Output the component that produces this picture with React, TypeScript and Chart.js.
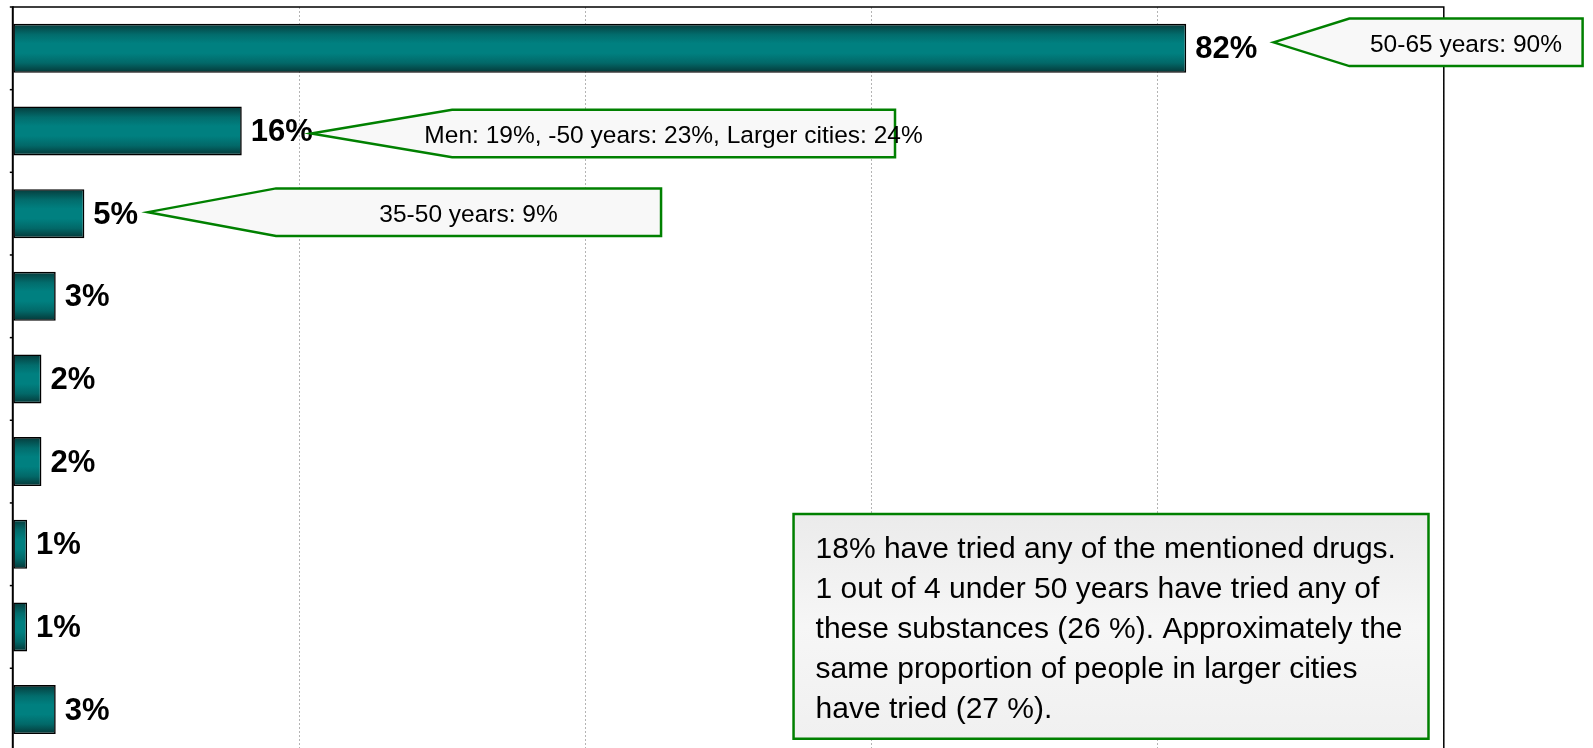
import React, { useEffect, useRef } from "react";
import { Chart, registerables } from "chart.js";

Chart.register(...registerables);

// ---------- data ----------
const categories = [
  "Category 1",
  "Category 2",
  "Category 3",
  "Category 4",
  "Category 5",
  "Category 6",
  "Category 7",
  "Category 8",
  "Category 9",
];
const values = [82, 16, 5, 3, 2, 2, 1, 1, 3];
const xMin = 0;
const xMax = 100;
const xStep = 20;
const calloutBars = [0, 1, 2];
const calloutTexts = [
  "50-65 years: 90%",
  "Men: 19%, -50 years: 23%, Larger cities: 24%",
  "35-50 years: 9%",
];
const noteLines = [
  "18% have tried any of the mentioned drugs.",
  "1 out of 4 under 50 years have tried any of",
  "these substances (26 %). Approximately the",
  "same proportion of people in larger cities",
  "have tried (27 %).",
];

// ---------- layout / style (not data) ----------
const W = 1593;
const H = 760;
const BAR_PCT = 0.5925;
const FONT = "'Liberation Sans', Arial, Helvetica, sans-serif";
const GREEN = "#008000";
// callout geometry in x-axis units, dy in px
const CALLOUT_GEOM = [
  { tip: 88.1, left: 93.4, right: 109.7, dy: -6 },
  { tip: 20.85, left: 30.7, right: 61.65, dy: 2.5 },
  { tip: 9.45, left: 18.4, right: 45.3, dy: -1.5 },
];
const CALLOUT_HALF = 23.75;
// note box geometry in axis units
const NOTE_GEOM = { left: 54.56, right: 98.93, top: 5.634, bottom: 8.353 };

const overlayPlugin = {
  id: "overlay",
  afterDatasetsDraw(chart: any) {
    const ctx = chart.ctx;
    const { left, right, top, bottom } = chart.chartArea;
    const y = chart.scales.y;
    ctx.save();
    ctx.strokeStyle = "#000";
    // top & right border
    ctx.lineWidth = 1.5;
    ctx.beginPath();
    ctx.moveTo(left, top);
    ctx.lineTo(right, top);
    ctx.lineTo(right, bottom + 2);
    ctx.stroke();
    // left axis
    ctx.lineWidth = 2;
    ctx.beginPath();
    ctx.moveTo(left, top - 0.75);
    ctx.lineTo(left, bottom + 2);
    ctx.stroke();
    // category tick marks
    ctx.lineWidth = 1.5;
    for (let i = 0; i <= categories.length; i++) {
      const py = y.getPixelForValue(i - 0.5);
      ctx.beginPath();
      ctx.moveTo(left - 3, py);
      ctx.lineTo(left, py);
      ctx.stroke();
    }
    // value labels
    const meta = chart.getDatasetMeta(0);
    ctx.fillStyle = "#000";
    ctx.font = `bold 31px ${FONT}`;
    ctx.textAlign = "left";
    ctx.textBaseline = "alphabetic";
    meta.data.forEach((bar: any, i: number) => {
      ctx.fillText(`${values[i]}%`, bar.x + 9, bar.y + 10);
    });
    ctx.restore();
  },
  afterDraw(chart: any) {
    const ctx = chart.ctx;
    const x = chart.scales.x;
    const y = chart.scales.y;
    ctx.save();
    // callouts
    calloutBars.forEach((bi, k) => {
      const g = CALLOUT_GEOM[k];
      const cy = y.getPixelForValue(bi) + g.dy;
      const tx = x.getPixelForValue(g.tip);
      const lx = x.getPixelForValue(g.left);
      const rx = x.getPixelForValue(g.right);
      const t = cy - CALLOUT_HALF;
      const b = cy + CALLOUT_HALF;
      ctx.beginPath();
      ctx.moveTo(tx, cy);
      ctx.lineTo(lx, t);
      ctx.lineTo(rx, t);
      ctx.lineTo(rx, b);
      ctx.lineTo(lx, b);
      ctx.closePath();
      ctx.fillStyle = "#f8f8f8";
      ctx.fill();
      ctx.lineWidth = 2.5;
      ctx.strokeStyle = GREEN;
      ctx.lineJoin = "miter";
      ctx.stroke();
      ctx.fillStyle = "#000";
      ctx.font = `24.5px ${FONT}`;
      ctx.textAlign = "center";
      ctx.textBaseline = "alphabetic";
      ctx.fillText(calloutTexts[k], (lx + rx) / 2, cy + 10);
    });
    // note box
    const nl = x.getPixelForValue(NOTE_GEOM.left);
    const nr = x.getPixelForValue(NOTE_GEOM.right);
    const nt = y.getPixelForValue(NOTE_GEOM.top);
    const nb = y.getPixelForValue(NOTE_GEOM.bottom);
    const grad = ctx.createLinearGradient(0, nt, 0, nb);
    grad.addColorStop(0, "#ebebeb");
    grad.addColorStop(0.5, "#f6f6f6");
    grad.addColorStop(1, "#f0f0f0");
    ctx.fillStyle = grad;
    ctx.fillRect(nl, nt, nr - nl, nb - nt);
    ctx.lineWidth = 2.5;
    ctx.strokeStyle = GREEN;
    ctx.strokeRect(nl, nt, nr - nl, nb - nt);
    ctx.fillStyle = "#000";
    ctx.font = `30px ${FONT}`;
    ctx.textAlign = "left";
    ctx.textBaseline = "alphabetic";
    noteLines.forEach((line, i) => {
      ctx.fillText(line, nl + 22, nt + 44.3 + i * 40);
    });
    ctx.restore();
  },
};

export default function App() {
  const ref = useRef<HTMLCanvasElement | null>(null);

  useEffect(() => {
    if (!ref.current) return;
    const chart = new Chart(ref.current, {
      type: "bar",
      data: {
        labels: categories,
        datasets: [
          {
            data: values,
            categoryPercentage: 1,
            barPercentage: BAR_PCT,
            borderColor: "#000",
            borderWidth: 1.6,
            borderSkipped: false,
            backgroundColor: (c: any) => {
              const ch = c.chart;
              const ys = ch.scales && ch.scales.y;
              if (!ch.chartArea || !ys || c.dataIndex === undefined) return "#008080";
              const cy = ys.getPixelForValue(c.dataIndex);
              const pitch = Math.abs(ys.getPixelForValue(1) - ys.getPixelForValue(0));
              const h = (pitch * BAR_PCT) / 2;
              if (!isFinite(cy) || !isFinite(h) || h <= 0) return "#008080";
              const g = ch.ctx.createLinearGradient(0, cy - h, 0, cy + h);
              g.addColorStop(0, "#053b3b");
              g.addColorStop(0.22, "#026c6c");
              g.addColorStop(0.4, "#008080");
              g.addColorStop(0.6, "#008080");
              g.addColorStop(0.8, "#026868");
              g.addColorStop(1, "#053636");
              return g;
            },
          },
        ],
      },
      options: {
        indexAxis: "y",
        responsive: false,
        animation: false,
        events: [],
        layout: { padding: { top: 7, left: 12.8, right: 149.2, bottom: 9.1 } },
        plugins: {
          legend: { display: false },
          tooltip: { enabled: false },
          title: { display: false },
        },
        scales: {
          x: {
            type: "linear",
            min: xMin,
            max: xMax,
            ticks: { display: false, stepSize: xStep },
            grid: { color: "#b4b4b4", lineWidth: 1, drawTicks: false },
            border: { display: false, dash: [2, 2] },
            afterFit: (s: any) => {
              s.height = 0;
            },
          },
          y: {
            display: false,
          },
        },
      },
      plugins: [overlayPlugin],
    } as any);
    return () => chart.destroy();
  }, []);

  return (
    <div
      style={{
        position: "fixed",
        left: 0,
        top: 0,
        width: W,
        height: 748,
        overflow: "hidden",
        background: "#fff",
      }}
    >
      <canvas ref={ref} width={W} height={H} style={{ display: "block", width: W, height: H }} />
    </div>
  );
}
